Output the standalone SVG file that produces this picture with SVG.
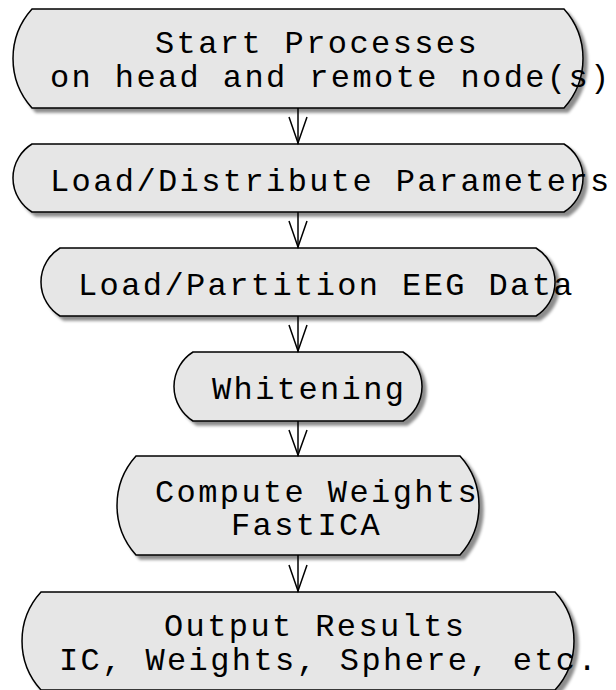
<svg xmlns="http://www.w3.org/2000/svg" width="616" height="690" viewBox="0 0 616 690">
  <style>
    .act { fill: #e6e6e6; stroke: #000000; stroke-width: 1.5; filter: url(#shadow); }
    .lbl { font-family: "Liberation Mono", "Courier New", monospace; font-size: 32px; letter-spacing: 2.4px; fill: #000000; }
    .flow line, .flow polyline { stroke: #000000; stroke-width: 1.5; fill: none; }
  </style>
  <defs>
    <filter id="shadow" x="-5%" y="-5%" width="115%" height="125%">
      <feOffset in="SourceAlpha" dx="4" dy="4" result="off"/>
      <feGaussianBlur in="off" stdDeviation="1.8" result="blur"/>
      <feColorMatrix in="blur" type="matrix" values="0 0 0 0 0  0 0 0 0 0  0 0 0 0 0  0 0 0 0.45 0" result="shade"/>
      <feMerge>
        <feMergeNode in="shade"/>
        <feMergeNode in="SourceGraphic"/>
      </feMerge>
    </filter>
  </defs>

  <!-- activity: start processes -->
  <g id="start-processes">
    <path class="act" d="M32,9 H564 A74,74 0 0 1 564,108 H32 A74,74 0 0 1 32,9 Z"/>
    <text class="lbl" x="155" y="53">Start Processes</text>
    <text class="lbl" x="50" y="87">on head and remote node(s)</text>
  </g>

  <!-- activity: load/distribute parameters -->
  <g id="load-parameters">
    <path class="act" d="M32,144 H564 A39.9,39.9 0 0 1 564,212 H32 A39.9,39.9 0 0 1 32,144 Z"/>
    <text class="lbl" x="50" y="190.5">Load/Distribute Parameters</text>
  </g>

  <!-- activity: load/partition EEG data -->
  <g id="load-eeg">
    <path class="act" d="M60,248 H536 A39.9,39.9 0 0 1 536,316 H60 A39.9,39.9 0 0 1 60,248 Z"/>
    <text class="lbl" x="78" y="294.5">Load/Partition EEG Data</text>
  </g>

  <!-- activity: whitening -->
  <g id="whitening">
    <path class="act" d="M193,352 H403 A40.8,40.8 0 0 1 403,421 H193 A40.8,40.8 0 0 1 193,352 Z"/>
    <text class="lbl" x="212" y="399">Whitening</text>
  </g>

  <!-- activity: compute weights -->
  <g id="compute-weights">
    <path class="act" d="M136,456 H460 A74,74 0 0 1 460,555 H136 A74,74 0 0 1 136,456 Z"/>
    <text class="lbl" x="155" y="501.5">Compute Weights</text>
    <text class="lbl" x="231" y="535">FastICA</text>
  </g>

  <!-- activity: output results -->
  <g id="output-results">
    <path class="act" d="M41,592 H555 A72.7,72.7 0 0 1 555,690 H41 A72.7,72.7 0 0 1 41,592 Z"/>
    <text class="lbl" x="164" y="636">Output Results</text>
    <text class="lbl" x="59" y="670">IC, Weights, Sphere, etc.</text>
  </g>

  <!-- control flow between activities -->
  <g id="connectors" class="flow">
    <line x1="298" y1="108" x2="298" y2="144"/>
    <polyline points="289,117 298,143 307,117"/>
    <line x1="298" y1="212" x2="298" y2="248"/>
    <polyline points="289,221 298,247 307,221"/>
    <line x1="298" y1="316" x2="298" y2="352"/>
    <polyline points="289,325 298,351 307,325"/>
    <line x1="298" y1="421" x2="298" y2="456"/>
    <polyline points="289,430 298,455 307,430"/>
    <line x1="298" y1="555" x2="298" y2="592"/>
    <polyline points="289,565 298,591 307,565"/>
  </g>
</svg>
